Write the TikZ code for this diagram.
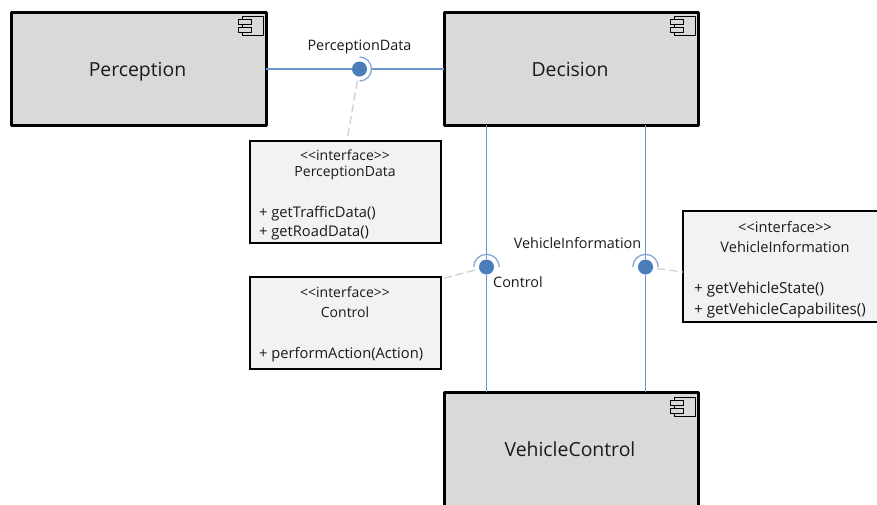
\documentclass[tikz,border=0pt]{standalone}
\usepackage{fontspec}
\setmainfont{Open Sans}
\definecolor{compgray}{HTML}{D9D9D9}
\definecolor{ifacegray}{HTML}{F2F2F2}
\definecolor{wirec}{HTML}{6A97CF}
\definecolor{cupc}{HTML}{7FA3D1}
\definecolor{ballc}{HTML}{4A7EBB}
\definecolor{dashc}{HTML}{CFCFCF}
\definecolor{textc}{HTML}{1A1A1A}
\tikzset{
 x=1pt,y=-1pt,
 comp/.style={draw=black,line width=3pt,fill=compgray,line join=round,inner sep=0pt,outer sep=0pt},
 ctext/.style={inner sep=0pt,font=\fontsize{19.4}{22}\selectfont,text=textc},
 iface/.style={draw=black,line width=2pt,fill=ifacegray,inner sep=0pt,outer sep=0pt},
 itext/.style={inner sep=0pt,align=center,font=\fontsize{14}{16}\selectfont,text=textc},
 itextw/.style={inner sep=0pt,align=center,font=\fontsize{14.6}{16}\selectfont,text=textc},
 mtext/.style={inner sep=0pt,anchor=west,font=\fontsize{14.7}{16}\selectfont,text=textc},
 mtextw/.style={inner sep=0pt,anchor=west,font=\fontsize{15.2}{16}\selectfont,text=textc},
 lbl/.style={inner sep=0pt,font=\fontsize{14.4}{16}\selectfont,text=textc},
 wire/.style={draw=wirec,line width=1.1pt},
 cup/.style={draw=cupc,line width=1.2pt},
 depline/.style={draw=dashc,line width=1.3pt,dash pattern=on 8pt off 4pt},
 ball/.style={circle,fill=ballc,draw=none,minimum size=15pt,inner sep=0pt},
 iconp/.style={draw=black,line width=1pt,fill=compgray}
}
\newcommand{\compicon}[2]{%
 \draw[iconp] (#1+4,#2) rectangle (#1+25,#2+19);
 \draw[iconp] (#1,#2+3) rectangle (#1+13,#2+8);
 \draw[iconp] (#1,#2+11) rectangle (#1+13,#2+16);
}
\begin{document}
\begin{tikzpicture}
\useasboundingbox (0,0) rectangle (877,504);
\fill[white] (0,0) rectangle (877,504);
% components
\node[comp,minimum width=255pt,minimum height=113pt] (perc) at (138.5,68.5) {};
\node[comp,minimum width=254pt,minimum height=113pt] (dec) at (571,68.5) {};
\node[comp,minimum width=254pt,minimum height=130pt] (vc) at (571,457) {};
\node[ctext] (ct1) at (137.5,71.5) {Perception};
\node[ctext] (ct2) at (570,69) {Decision};
\node[ctext] (ct3) at (570,449) {VehicleControl};
\compicon{238}{16}
\compicon{670}{16}
\compicon{670}{397}
% interfaces
\node[iface,minimum width=191pt,minimum height=102pt] (i1) at (345,191.5) {};
\node[iface,minimum width=191pt,minimum height=92pt] (i2) at (345,322.5) {};
\node[iface,minimum width=196pt,minimum height=111pt] (i3) at (781,266) {};
% lollipops
\coordinate (a1) at (347,140);
\coordinate (a2) at (441,279);
\coordinate (a3) at (683,272);
\coordinate (b1c) at (359.5,69);
\coordinate (b2c) at (486.5,267);
\coordinate (b3c) at (645.5,267);
\draw[depline] (b1c) -- (a1);
\draw[depline] (b2c) -- (a2);
\draw[depline] (b3c) -- (a3);
\node[ball] (b1) at (b1c) {};
\node[ball] (b2) at (b2c) {};
\node[ball] (b3) at (b3c) {};
% wires
\draw[wire] (perc.east |- b1) -- (b1);
\coordinate (c1) at (372,69);
\draw[wire] (c1) -- (dec.west |- b1);
\draw[wire] (b2 |- dec.south) -- (b2);
\draw[wire] (b2) -- (b2 |- vc.north);
\draw[wire] (b3 |- dec.south) -- (b3);
\draw[wire] (b3) -- (b3 |- vc.north);
% cups
\draw[cup] (359.5,57) arc[start angle=-90,end angle=90,radius=12];
\draw[cup] (473.8,267) arc[start angle=180,end angle=360,radius=12.7];
\draw[cup] (632.8,267) arc[start angle=180,end angle=360,radius=12.7];
% interface text
\node[itext] (t1a) at (345,155.5) {<{}<interface>{}>};
\node[itext] (t1b) at (345,173.5) {PerceptionData};
\node[mtext] (t1c) at (259,213.5) {+ getTrafficData()};
\node[mtext] (t1d) at (259,232.5) {+ getRoadData()};
\node[itext] (t2a) at (345,292.5) {<{}<interface>{}>};
\node[itext] (t2b) at (345,312.5) {Control};
\node[mtext] (t2c) at (259,355) {+ performAction(Action)};
\node[itextw] (t3a) at (785,226.5) {<{}<interface>{}>};
\node[itextw] (t3b) at (785,247) {VehicleInformation};
\node[mtextw] (t3c) at (694,290) {+ getVehicleState()};
\node[mtextw] (t3d) at (694,311) {+ getVehicleCapabilites()};
% connector labels
\node[lbl] (l1) at (359.5,46.5) {PerceptionData};
\node[lbl] (l2) at (518,282) {Control};
\node[lbl] (l3) at (577.5,243) {VehicleInformation};
\end{tikzpicture}
\end{document}
